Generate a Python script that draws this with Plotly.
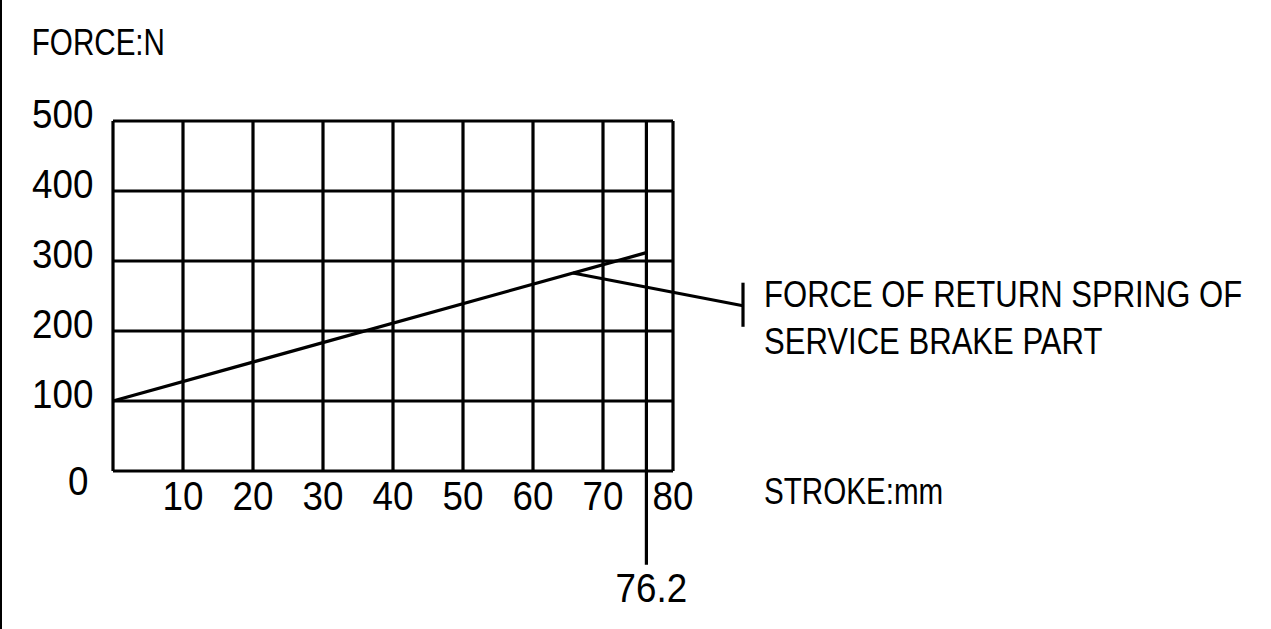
import plotly.graph_objects as go

# ---- data ----
stroke_mm = [0, 76.2]            # stroke values (mm)
force_n = [100, 312]             # spring force (N)
x_ticks = [10, 20, 30, 40, 50, 60, 70, 80]
y_ticks = [0, 100, 200, 300, 400, 500]
x_grid = [0, 10, 20, 30, 40, 50, 60, 70, 80]
max_stroke_label = "76.2"
series_label = ["FORCE OF RETURN SPRING OF", "SERVICE BRAKE PART"]
y_title = "FORCE:N"
x_title = "STROKE:mm"

# ---- layout geometry (pixels) ----
W, H = 1271, 629
X0_PX, X80_PX = 113, 673
Y0_PX, Y500_PX = 471, 121
px_per_x = (X80_PX - X0_PX) / 80.0
px_per_y = (Y0_PX - Y500_PX) / 500.0
x_range = [-X0_PX / px_per_x, (W - X0_PX) / px_per_x]
y_range = [-(H - Y0_PX) / px_per_y, Y0_PX / px_per_y]

FONT = "Liberation Sans, Arial, sans-serif"
LW = 3.2
BLACK = "black"

fig = go.Figure()

# grid: vertical lines
gx, gy = [], []
for v in x_grid:
    gx += [v, v, None]
    gy += [y_ticks[0], y_ticks[-1], None]
# grid: horizontal lines
for v in y_ticks:
    gx += [x_grid[0], x_grid[-1], None]
    gy += [v, v, None]
fig.add_trace(go.Scatter(x=gx, y=gy, mode="lines",
                         line=dict(color=BLACK, width=LW), hoverinfo="skip"))

# data curve
fig.add_trace(go.Scatter(x=stroke_mm, y=force_n, mode="lines",
                         line=dict(color=BLACK, width=LW)))

# 76.2 extension line
fig.add_trace(go.Scatter(x=[stroke_mm[-1], stroke_mm[-1]], y=[y_ticks[-1], -134],
                         mode="lines", line=dict(color=BLACK, width=LW)))

# leader line from the curve to the label
lead_x0 = 65.7
lead_y0 = force_n[0] + (force_n[1] - force_n[0]) * lead_x0 / stroke_mm[1]
lead_x1, lead_y1 = 90, 236
fig.add_trace(go.Scatter(x=[lead_x0, lead_x1, None, lead_x1, lead_x1],
                         y=[lead_y0, lead_y1, None, 206, 269],
                         mode="lines", line=dict(color=BLACK, width=LW)))

# x tick labels
fig.add_trace(go.Scatter(x=x_ticks, y=[-41] * len(x_ticks), mode="text",
                         text=[str(v) for v in x_ticks],
                         textposition="middle center",
                         textfont=dict(family=FONT, size=40, color=BLACK)))

# y tick labels
ylab_y = [-20 if v == 0 else v + 4 for v in y_ticks]
ylab_x = [-3.5 if v == 0 else -2.8 for v in y_ticks]
fig.add_trace(go.Scatter(x=ylab_x, y=ylab_y, mode="text",
                         text=[str(v) for v in y_ticks],
                         textposition="middle left",
                         textfont=dict(family=FONT, size=40, color=BLACK)))

# titles and labels
fig.add_trace(go.Scatter(x=[-11.6, 93.0, 93.0, 93.0], y=[608, -34, 247, 181],
                         mode="text",
                         text=[y_title, x_title, series_label[0], series_label[1]],
                         textposition="middle right",
                         textfont=dict(family=FONT, size=37, color=BLACK)))
fig.add_trace(go.Scatter(x=[stroke_mm[-1] + 0.7], y=[-173], mode="text",
                         text=[max_stroke_label], textposition="middle center",
                         textfont=dict(family=FONT, size=40, color=BLACK)))

fig.update_traces(cliponaxis=False, selector=dict(mode="text"))

fig.update_layout(
    width=W, height=H,
    margin=dict(l=0, r=0, t=0, b=0),
    paper_bgcolor="white", plot_bgcolor="white",
    showlegend=False,
    xaxis=dict(range=x_range, visible=False, fixedrange=True),
    yaxis=dict(range=y_range, visible=False, fixedrange=True),
    shapes=[dict(type="line", xref="paper", yref="paper", x0=0, x1=0, y0=0, y1=1,
                 line=dict(color=BLACK, width=4))],
)

# condense the text horizontally (CAD-style narrow lettering) and drop page margin
post = """
document.body.style.margin = '0';
var gd = document.getElementById('{plot_id}');
gd.querySelectorAll('g.textpoint text').forEach(function(t) {
  var txt = t.textContent;
  var s = /^[0-9.]+$/.test(txt) ? 0.92 : (txt.length > 12 ? 0.84 : 0.8);
  var x = parseFloat(t.getAttribute('x')) || 0;
  t.setAttribute('transform', 'translate(' + x + ',0) scale(' + s + ',1) translate(' + (-x) + ',0)');
});
"""

fig.write_html("out.html", post_script=post, config={"staticPlot": True})
